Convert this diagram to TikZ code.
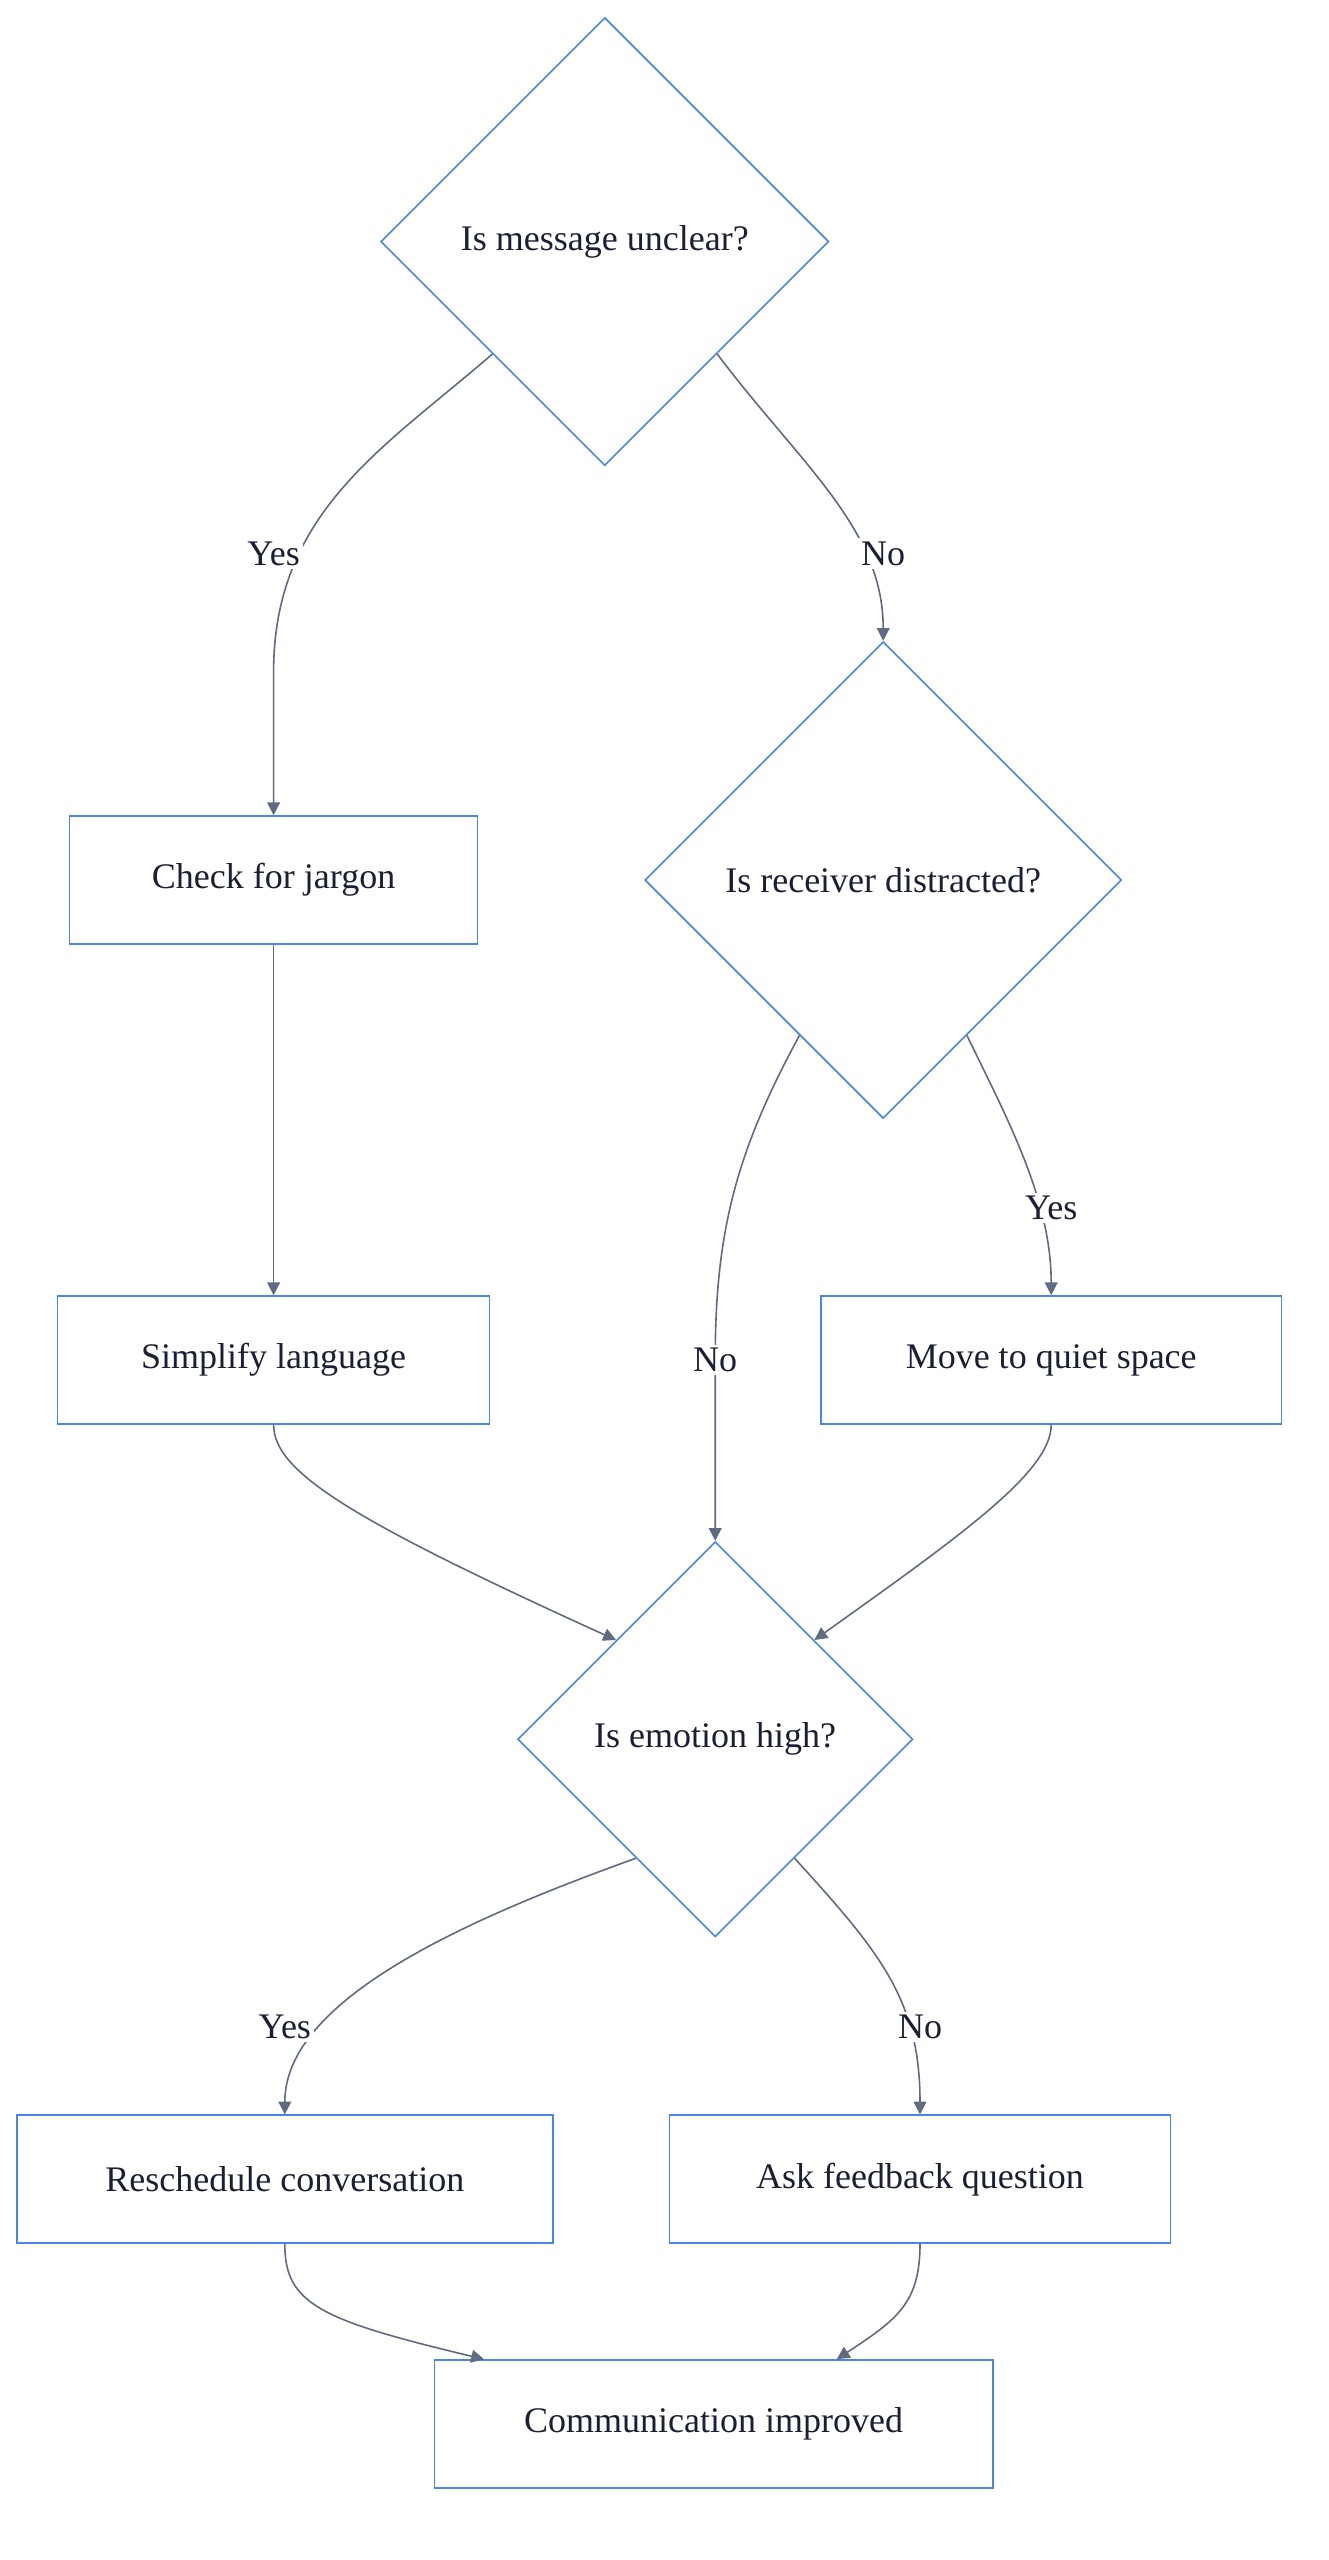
\documentclass[tikz,border=0pt]{standalone}
\usepackage{fontspec}
\setmainfont{Liberation Serif}
\usetikzlibrary{shapes.geometric,arrows.meta,calc}
\definecolor{nb}{HTML}{4A86E8}
\definecolor{eg}{HTML}{5F6B80}
\definecolor{tx}{HTML}{1A1F36}
\begin{document}
\begin{tikzpicture}[x=1pt,y=-1pt,
  box/.style={draw=nb,line width=1pt,minimum width=#1,minimum height=80pt,inner sep=0pt,text=tx,font=\fontsize{22.5}{26}\selectfont},
  dia/.style={draw=nb,line width=1pt,diamond,minimum width=#1,minimum height=#1,inner sep=0pt,text=tx,font=\fontsize{22.5}{26}\selectfont},
  lbl/.style={fill=white,inner sep=2pt,text=tx,font=\fontsize{22.5}{26}\selectfont},
  edge/.style={draw=eg,line width=1pt,-{Triangle[length=8pt,width=8pt]}}]
\useasboundingbox (0,0) rectangle (830,1600);
\node[dia=280] (d1) at (378,151) {Is message unclear?};
\node[dia=298] (d2) at (552,550) {Is receiver distracted?};
\node[dia=247] (d3) at (447,1087) {Is emotion high?};
\node[box=255] (b1) at (171,550) {Check for jargon};
\node[box=270] (b2) at (171,850) {Simplify language};
\node[box=288] (b3) at (657,850) {Move to quiet space};
\node[box=335] (b4) at (178,1362) {Reschedule conversation};
\node[box=313] (b5) at (575,1362) {Ask feedback question};
\node[box=349] (b6) at (446,1515) {Communication improved};
\draw[edge] (d1.south west) .. controls (240,280) and (171,320) .. (171,420) -- (b1.north);
\draw[edge] (d1.south east) .. controls (500,290) and (552,330) .. (d2.north);
\draw[edge] (b1) -- (b2);
\draw[edge] ($(d2.west)!0.65!(d2.south)$) .. controls (460,720) and (447,770) .. (447,850) -- (d3.north);
\draw[edge] ($(d2.east)!0.65!(d2.south)$) .. controls (630,700) and (657,750) .. (b3.north);
\draw[edge] (b2.south) .. controls (171,920) and (220,950) .. ($(d3.west)!0.5!(d3.north)$);
\draw[edge] (b3.south) .. controls (657,920) and (600,960) .. ($(d3.east)!0.5!(d3.north)$);
\draw[edge] ($(d3.west)!0.6!(d3.south)$) .. controls (290,1200) and (178,1250) .. (b4.north);
\draw[edge] ($(d3.east)!0.6!(d3.south)$) .. controls (550,1220) and (575,1250) .. (b5.north);
\draw[edge] (b4.south) .. controls (178,1440) and (200,1450) .. ($(b6.north west)!0.09!(b6.north east)$);
\draw[edge] (b5.south) .. controls (575,1440) and (560,1450) .. ($(b6.north west)!0.72!(b6.north east)$);
\node[lbl] (l1) at (171,346) {Yes};
\node[lbl] (l2) at (552,346) {No};
\node[lbl] (l3) at (657,755) {Yes};
\node[lbl] (l4) at (447,850) {No};
\node[lbl] (l5) at (178,1267) {Yes};
\node[lbl] (l6) at (575,1267) {No};
\end{tikzpicture}
\end{document}
